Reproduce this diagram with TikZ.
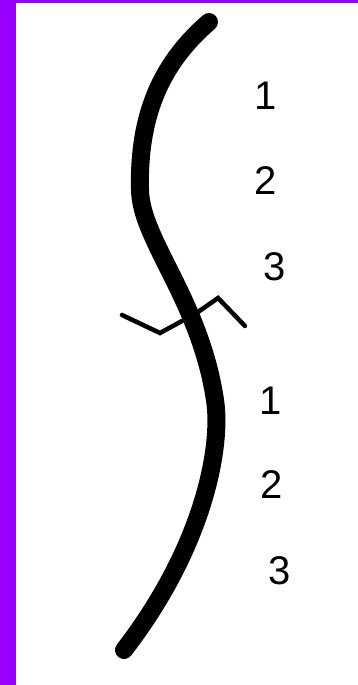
\documentclass[tikz,border=0pt]{standalone}
\usepackage{fontspec}
\setmainfont{Liberation Sans}
\usetikzlibrary{positioning}
\definecolor{framepurple}{HTML}{9900FF}

\begin{document}
\begin{tikzpicture}[
    x=1pt, y=-1pt,
    num/.style={font=\fontsize{40}{40}\selectfont, inner sep=0pt, anchor=center},
    spine/.style={line width=18pt, line cap=round, line join=round},
    kink/.style={line width=4.5pt, line cap=round, line join=miter}
]
\useasboundingbox (0,0) rectangle (358,685);
\fill[white] (0,0) rectangle (358,685);
\fill[framepurple] (0,0) rectangle (16,685);
\fill[framepurple] (0,0) rectangle (358,3);

% main curve
\draw[spine] (209,22) .. controls (165,60) and (138,110) .. (140,190)
    .. controls (141,240) and (200,300) .. (215,400)
    .. controls (222,445) and (205,545) .. (124,650);

% break marks
\draw[kink] (122,315) -- (160,333) -- (182,321);
\draw[kink] (198,312) -- (218,298) -- (245,326);

% numbering
\node[num] (upone) at (266,96) {1};
\node[num] (uptwo) at (266,181) {2};
\node[num] (upthree) at (275,267) {3};
\node[num] (loone) at (271,401) {1};
\node[num] (lotwo) at (272,485) {2};
\node[num] (lothree) at (280,571) {3};
\end{tikzpicture}
\end{document}
